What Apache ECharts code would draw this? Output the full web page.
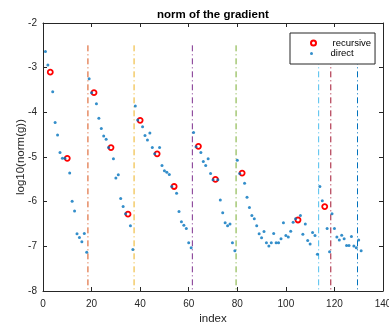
<!DOCTYPE html>
<html><head><meta charset="utf-8">
<script src="https://cdn.jsdelivr.net/npm/echarts@6/dist/echarts.min.js"></script>
<style>html,body{margin:0;padding:0;background:#fff}#c{width:389px;height:327px}</style>
</head><body><div id="c"></div>
<script>
const titleText = 'norm of the gradient';
const xName = 'index';
const yName = 'log10(norm(g))';
const seriesNames = ['recursive', 'direct'];
const xTicks = [0, 20, 40, 60, 80, 100, 120, 140];
const yTicks = [-8, -7, -6, -5, -4, -3, -2];

const recursiveIndex = [3, 10, 21, 28, 35, 40, 47, 54, 64, 71, 82, 105, 116];
const recursiveValue = [-3.10, -5.03, -3.56, -4.79, -6.28, -4.18, -4.93, -5.66, -4.76, -5.50, -5.36, -6.41, -6.11];

const directIndex = [1,2,4,5,6,7,8,9,11,12,13,14,15,16,17,18,19,20,22,23,24,25,26,27,29,30,31,32,33,34,36,37,38,39,41,42,43,44,45,46,48,49,50,51,52,53,55,56,57,58,59,60,61,62,63,65,66,67,68,69,70,72,73,74,75,76,77,78,79,80,81,83,84,85,86,87,88,89,90,91,92,93,94,95,96,97,98,99,100,101,102,103,104,106,107,108,109,110,111,112,113,114,115,117,118,119,120,121,122,123,124,125,126,127,128,129,130,131];
const directValue = [-2.64,-2.94,-3.54,-4.23,-4.51,-4.90,-5.03,-5.03,-5.36,-5.99,-6.21,-6.72,-6.80,-6.90,-6.71,-7.13,-3.25,-3.56,-3.81,-4.13,-4.36,-4.53,-4.60,-4.79,-5.04,-5.47,-5.40,-5.93,-6.11,-6.27,-6.54,-7.07,-3.86,-4.17,-4.32,-4.52,-4.62,-4.46,-4.79,-4.93,-4.79,-5.19,-5.31,-5.34,-5.39,-5.66,-5.81,-6.22,-6.45,-6.53,-6.60,-6.92,-7.03,-4.45,-4.77,-4.90,-5.10,-5.19,-5.04,-5.37,-5.51,-5.51,-5.96,-6.25,-6.47,-6.54,-6.50,-6.92,-7.10,-5.07,-5.37,-5.59,-5.90,-6.13,-6.31,-6.38,-6.54,-6.72,-6.81,-6.67,-6.92,-6.99,-6.92,-6.71,-6.92,-6.92,-6.83,-6.47,-6.76,-6.79,-6.66,-6.46,-6.38,-6.31,-6.73,-6.50,-6.87,-6.95,-6.69,-6.76,-7.18,-5.66,-5.98,-6.60,-7.12,-6.27,-6.60,-6.79,-6.86,-6.75,-6.83,-6.98,-6.98,-6.78,-6.99,-7.03,-6.86,-7.10];

const breakX = [18.5, 37.5, 61.5, 79.5, 113.5, 118.5, 129.5];
const breakTop = -2.5;
const breakColors = ['#D95319', '#EDB120', '#7E2F8E', '#77AC30', '#4DBEEE', '#A2142F', '#0072BD'];

const FONT = '"Liberation Sans", Arial, Helvetica, sans-serif';
const AX = '#262626';
const xMin = xTicks[0], xMax = xTicks[xTicks.length - 1];
const yMin = yTicks[0], yMax = yTicks[yTicks.length - 1];

const chart = echarts.init(document.getElementById('c'), null, {renderer: 'canvas'});

const breakSeries = breakX.map((x, i) => ({
  type: 'line', name: 'break' + i, silent: true, symbol: 'none', z: 1,
  data: [[x, breakTop], [x, yMin]],
  lineStyle: {color: breakColors[i], width: 1, type: [6, 3, 1, 3]},
  animation: false
}));

const axisCommon = {
  axisLine: {show: true, onZero: false, lineStyle: {color: AX, width: 1}},
  axisTick: {show: true, inside: true, length: 4, lineStyle: {color: AX}},
  splitLine: {show: false}
};

chart.setOption({
  animation: false,
  backgroundColor: '#fff',
  title: {
    text: titleText, left: 157, top: 9, padding: 0,
    textStyle: {fontFamily: FONT, fontSize: 11.5, fontWeight: 'bold', color: '#000'}
  },
  grid: {left: 43, top: 23, width: 340, height: 268, containLabel: false, outerBoundsMode: 'none'},
  legend: [{
    data: [seriesNames[0]], selectedMode: false, orient: 'vertical',
    left: 290, top: 33, padding: [5, 4, 16, 20],
    itemWidth: 28, itemHeight: 5, itemGap: 3,
    backgroundColor: '#fff', borderColor: AX, borderWidth: 1, borderRadius: 0,
    textStyle: {fontFamily: FONT, fontSize: 9.5, color: '#000'}, z: 10
  }, {
    data: [seriesNames[1]], selectedMode: false, orient: 'vertical',
    left: 290, top: 48, padding: [0, 4, 0, 20],
    itemWidth: 28, itemHeight: 3, itemGap: 3,
    textStyle: {fontFamily: FONT, fontSize: 9.5, color: '#000', lineHeight: 11}, z: 11
  }],
  xAxis: [Object.assign({
    type: 'value', min: xMin, max: xMax, interval: 20, position: 'bottom',
    name: xName, nameLocation: 'middle', nameGap: 22, nameMoveOverlap: false,
    nameTextStyle: {fontFamily: FONT, fontSize: 11.5, color: AX},
    axisLabel: {fontFamily: FONT, fontSize: 10, color: AX, margin: 8}
  }, axisCommon), Object.assign({
    type: 'value', min: xMin, max: xMax, interval: 20, position: 'top',
    axisLabel: {show: false}
  }, axisCommon)],
  yAxis: [Object.assign({
    type: 'value', min: yMin, max: yMax, interval: 1, position: 'left',
    name: yName, nameLocation: 'middle', nameGap: 16, nameRotate: 90, nameMoveOverlap: false,
    nameTextStyle: {fontFamily: FONT, fontSize: 11.5, color: AX},
    axisLabel: {fontFamily: FONT, fontSize: 10, color: AX, margin: 6}
  }, axisCommon), Object.assign({
    type: 'value', min: yMin, max: yMax, interval: 1, position: 'right',
    axisLabel: {show: false}
  }, axisCommon)],
  series: [
    {
      type: 'scatter', name: seriesNames[0], z: 3,
      data: recursiveIndex.map((x, i) => [x, recursiveValue[i]]),
      symbol: 'circle', symbolSize: 5,
      itemStyle: {color: 'rgba(255,255,255,0)', borderColor: '#FF0000', borderWidth: 1.8, opacity: 1}
    },
    {
      type: 'scatter', name: seriesNames[1], z: 4,
      data: directIndex.map((x, i) => [x, directValue[i]]),
      symbol: 'circle', symbolSize: 3,
      itemStyle: {color: '#0072BD'}
    }
  ].concat(breakSeries)
});
</script></body></html>
